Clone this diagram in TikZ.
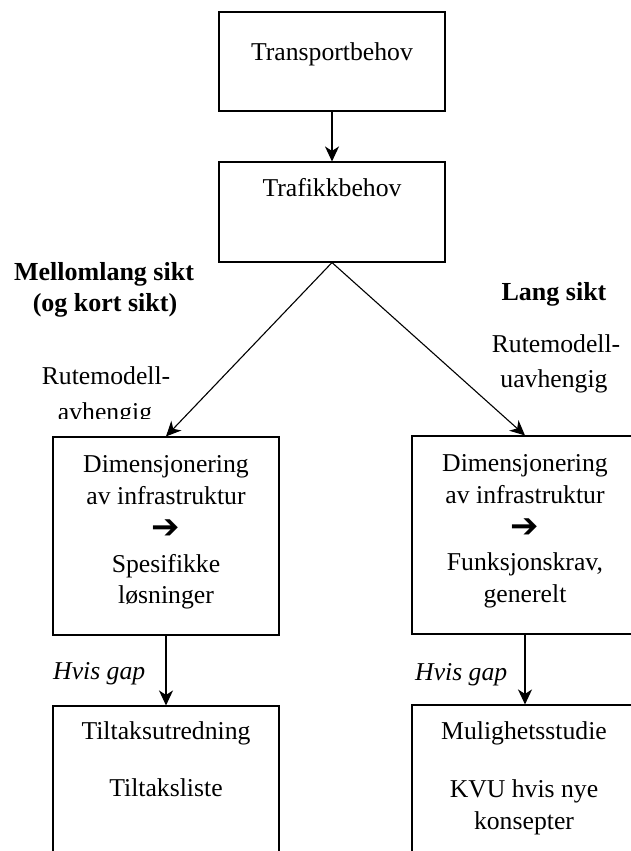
\documentclass[tikz,border=0pt]{standalone}
\usepackage{fontspec}
\setmainfont{Liberation Serif}
\newfontfamily\symfont{DejaVu Sans}
\usetikzlibrary{arrows.meta}
\begin{document}
\begin{tikzpicture}[x=1pt,y=-1pt,
  box/.style={draw, line width=1.1pt, minimum width=226pt, inner sep=0pt},
  txt/.style={anchor=base, inner sep=0pt, font=\fontsize{25.7}{30}\selectfont},
  head/.style={anchor=base, inner sep=0pt, font=\fontsize{26}{30}\selectfont\bfseries},
  note/.style={anchor=base west, inner sep=0pt, font=\fontsize{25.7}{30}\selectfont\itshape},
  bigarrow/.style={inner sep=0pt, font=\fontsize{34}{36}\selectfont\symfont\bfseries},
  conn/.style={line width=1.1pt, -{Stealth[length=15pt,width=14pt,inset=4.5pt]}}]
\useasboundingbox (0,0) rectangle (630,851);

% boxes
\node[box, minimum height=99pt]  (trans) at (332,61.5) {};
\node[box, minimum height=100pt] (traf)  at (332,212) {};
\node[box, minimum height=198pt] (dimL)  at (166,536) {};
\node[box, minimum height=198pt] (dimR)  at (525,535) {};
\node[box, minimum height=200pt] (tilL)  at (166,806) {};
\node[box, minimum height=200pt] (mulR)  at (525,805) {};

% box texts
\node[txt] (tTrans) at (332,60) {Transportbehov};
\node[txt] (tTraf)  at (332,196.5) {Trafikkbehov};

\node[txt] (tL1) at (166,472) {Dimensjonering};
\node[txt] (tL2) at (166,504) {av infrastruktur};
\node[bigarrow] (tL3) at (166,529) {➔};
\node[txt] (tL4) at (166,572) {Spesifikke};
\node[txt] (tL5) at (166,603) {løsninger};

\node[txt] (tR1) at (525,471) {Dimensjonering};
\node[txt] (tR2) at (525,503) {av infrastruktur};
\node[bigarrow] (tR3) at (525,528) {➔};
\node[txt] (tR4) at (525,570) {Funksjonskrav,};
\node[txt] (tR5) at (525,602) {generelt};

\node[txt] (tB1) at (166,739) {Tiltaksutredning};
\node[txt] (tB2) at (166,796) {Tiltaksliste};

\node[txt] (tM1) at (524,739) {Mulighetsstudie};
\node[txt] (tM2) at (524,797) {KVU hvis nye};
\node[txt] (tM3) at (524,829) {konsepter};

% headings
\node[head] (hMid1) at (104,280) {Mellomlang sikt};
\node[head] (hMid2) at (105,311) {(og kort sikt)};
\node[head] (hLong) at (554,300) {Lang sikt};

% route-model labels (the lower line is cut off by its frame)
\begin{scope}
  \clip (0,330) rectangle (230,418);
  \node[txt] (rL1) at (106,384) {Rutemodell-};
  \node[txt] (rL2) at (105,420) {avhengig};
\end{scope}
\node[txt] (rR1) at (556,352) {Rutemodell-};
\node[txt] (rR2) at (554,387) {uavhengig};

% gap notes
\node[note] (gL) at (53,679) {Hvis gap};
\node[note] (gR) at (415,680) {Hvis gap};

% connectors
\draw[conn] (trans) -- (traf);
\draw[conn] (traf.south) -- (dimL.north);
\draw[conn] (traf.south) -- (dimR.north);
\draw[conn] (dimL) -- (tilL);
\draw[conn] (dimR) -- (mulR);
\end{tikzpicture}
\end{document}
